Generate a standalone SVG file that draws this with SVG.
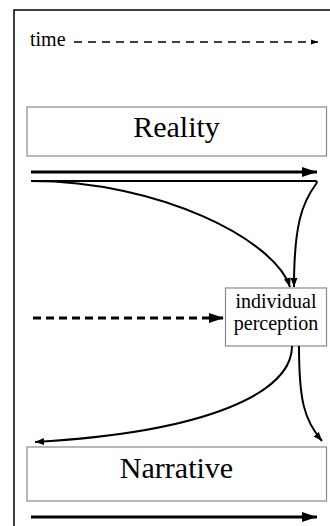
<svg xmlns="http://www.w3.org/2000/svg" width="330" height="526" viewBox="0 0 330 526">
  <style>
    .box { fill: #ffffff; stroke: #8a8a8a; stroke-width: 1.2; }
    .thick { fill: none; stroke: #000; stroke-width: 3.2; }
    .thin { fill: none; stroke: #000; stroke-width: 2; }
  </style>
  <defs>
    <marker id="headBig" markerUnits="userSpaceOnUse" markerWidth="16" markerHeight="12" refX="15" refY="6" orient="auto">
      <path d="M0,1 L15,6 L0,11 Z" fill="#000"/>
    </marker>
    <marker id="headSmall" markerUnits="userSpaceOnUse" markerWidth="10" markerHeight="8" refX="9" refY="4" orient="auto">
      <path d="M0,0.5 L9,4 L0,7.5 Z" fill="#000"/>
    </marker>
    <marker id="headTiny" markerUnits="userSpaceOnUse" markerWidth="8" markerHeight="6" refX="7" refY="3" orient="auto">
      <path d="M0,0.5 L7,3 L0,5.5 Z" fill="#000"/>
    </marker>
  </defs>

  <!-- frame -->
  <path d="M14,526 V10 H330" fill="none" stroke="#000" stroke-width="1.5"/>

  <g font-family="'Liberation Serif', 'DejaVu Serif', serif" fill="#000">
    <!-- time axis label -->
    <g id="time">
      <text x="30" y="46" font-size="20">time</text>
    </g>

    <g id="reality">
      <rect class="box" x="27" y="107" width="299.5" height="49"/>
      <text x="176.5" y="137" font-size="30" text-anchor="middle">Reality</text>
    </g>

    <g id="perception">
      <rect class="box" x="225.5" y="288" width="101" height="58"/>
      <text x="276" y="308" font-size="20" text-anchor="middle">individual</text>
      <text x="276" y="330" font-size="20" text-anchor="middle">perception</text>
    </g>

    <g id="narrative">
      <rect class="box" x="27" y="447" width="299.5" height="54"/>
      <text x="176.5" y="478" font-size="30" text-anchor="middle">Narrative</text>
    </g>
  </g>

  <g id="connectors">
    <!-- time arrow -->
    <path d="M74,42 H318" fill="none" stroke="#000" stroke-width="1.3" stroke-dasharray="8,6" marker-end="url(#headTiny)"/>
    <!-- reality timeline -->
    <path class="thick" d="M31,172 H317" marker-end="url(#headBig)"/>
    <!-- reality into perception (late) -->
    <path class="thin" d="M31,181 H315 Q318,181 316,184 C302,203 294,225 294,287" marker-end="url(#headSmall)"/>
    <!-- reality into perception (early) -->
    <path class="thin" d="M31,181 C160,181 275,240 290,287" marker-end="url(#headSmall)"/>
    <!-- outside input -->
    <path class="thick" d="M33,318 H224" stroke-dasharray="8,5" marker-end="url(#headBig)"/>
    <!-- perception into narrative, reaching back -->
    <path class="thin" d="M292,346 C292,392 210,432 35,442" marker-end="url(#headSmall)"/>
    <!-- perception into narrative, forward -->
    <path class="thin" d="M299,346 C299,400 304,420 322,441" marker-end="url(#headSmall)"/>
    <!-- narrative timeline -->
    <path class="thick" d="M31,517 H317" marker-end="url(#headBig)"/>
  </g>
</svg>
